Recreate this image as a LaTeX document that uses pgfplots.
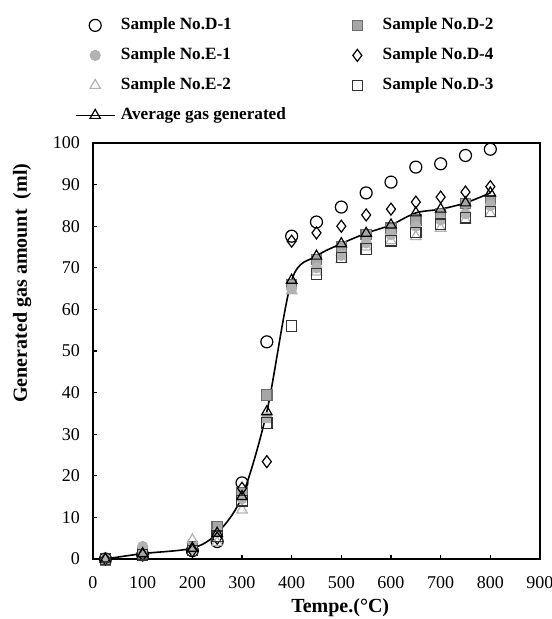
\documentclass[border=0pt]{standalone}
\usepackage{fontspec}
\setmainfont{Liberation Serif}
\usepackage{pgfplots}
\pgfplotsset{compat=1.18}

\begin{document}
\begin{tikzpicture}
\useasboundingbox (-46.5pt,-30pt) rectangle (229pt,279.5pt);
\begin{axis}[
  width=223.5pt, height=208pt,
  scale only axis,
  xmin=0, xmax=900, ymin=0, ymax=100,
  xtick={0,100,...,900},
  ytick={0,10,...,100},
  tick align=inside,
  tick pos=left,
  major tick length=2pt,
  axis line style={line width=1.3pt},
  tick style={line width=0.6pt, black},
  tick label style={font=\fontsize{9}{10}\selectfont},
  xticklabel style={yshift=-5pt},
  yticklabel style={xshift=-3pt},
  /pgf/number format/assume math mode=true,
  xlabel={\textbf{Tempe.(°C)}},
  ylabel={\textbf{Generated gas amount\ \ (ml)}},
  label style={font=\fontsize{9.2}{10}\selectfont},
  every axis x label/.style={at={(axis description cs:0.553,-0.118)}, anchor=center},
  every axis y label/.style={at={(axis description cs:-0.1588,0.663)}, rotate=90, anchor=center},
  clip=false,
  legend columns=2,
  legend cell align=left,
  legend image code/.code={\path (0pt,0pt) (19pt,0pt);
    \draw[mark repeat=2,mark phase=2,#1] plot coordinates {(0pt,0pt)(9.5pt,0pt)(19pt,0pt)};},
  legend style={at={(axis description cs:0,1)}, anchor=north west,
    xshift=-9pt, yshift=63pt, draw=none, fill=none, inner sep=0pt,
    font=\fontsize{8.6}{10}\selectfont\bfseries,
    nodes={inner sep=0pt, text height=6pt, text depth=2pt},
    row sep=7pt,
    /tikz/every odd column/.append style={column sep=3pt},
    /tikz/every even column/.append style={column sep=26pt}},
]
% Sample No.D-1
\addplot[only marks, mark=o, mark size=3pt, black, mark options={line width=0.6pt}]
  coordinates {(25,0)(100,1)(200,2)(250,4.2)(300,18.3)(350,52.2)(400,77.6)
  (450,81)(500,84.6)(550,88)(600,90.6)(650,94.2)(700,95)(750,97)(800,98.5)};
\addlegendentry{Sample No.D-1}
% Sample No.D-2
\addplot[only marks, mark=square*, mark size=2.6pt, draw=gray!85!black, fill=gray!70, mark options={line width=0.6pt}]
  coordinates {(25,-0.4)(100,1.5)(200,3)(250,7.8)(300,16)(350,39.4)(400,66)
  (450,72)(500,75)(550,78)(600,79.5)(650,81.5)(700,83)(750,85.5)(800,86)};
\addlegendentry{Sample No.D-2}
% Sample No.E-1
\addplot[only marks, mark=*, mark size=2.6pt, draw=gray!60, fill=gray!60]
  coordinates {(25,0)(100,3)(200,2.5)(250,6.5)(300,14.5)(350,34)(400,65)
  (450,70)(500,73)(550,76)(600,78)(650,80)(700,81.5)(750,83)(800,85)};
\addlegendentry{Sample No.E-1}
% Sample No.D-4
\addplot[only marks, mark=diamond, mark size=3pt, black, mark options={line width=0.6pt}]
  coordinates {(25,0)(100,1)(200,2)(250,5)(300,17)(350,23.4)(400,76.4)
  (450,78.4)(500,80)(550,82.7)(600,84.1)(650,85.8)(700,87)(750,88.2)(800,89.5)};
\addlegendentry{Sample No.D-4}
% Sample No.E-2
\addplot[only marks, mark=triangle, mark size=3pt, gray!60, mark options={line width=0.6pt}]
  coordinates {(25,0)(100,1.5)(200,4.6)(250,4)(300,11.8)(350,33.5)(400,64.5)
  (450,69)(500,72)(550,75)(600,76.5)(650,77.5)(700,79.5)(750,81.5)(800,83)};
\addlegendentry{Sample No.E-2}
% Sample No.D-3
\addplot[only marks, mark=square, mark size=2.6pt, black!80, mark options={line width=0.6pt}]
  coordinates {(25,0)(100,1)(200,2)(250,5.5)(300,14)(350,32.7)(400,56)
  (450,68.5)(500,72.5)(550,74.5)(600,76.5)(650,78.5)(700,80.5)(750,82)(800,83.5)};
\addlegendentry{Sample No.D-3}
% Average
\addplot[smooth, black, line width=0.8pt, mark=triangle, mark size=3pt, mark options={fill=white, line width=0.6pt}]
  coordinates {(25,0)(100,1.3)(200,2.6)(250,6.2)(300,15)(350,35.4)(400,67)
  (450,72.8)(500,75.8)(550,78.3)(600,80.3)(650,83.2)(700,84.1)(750,85.6)(800,88)};
\addlegendentry{Average gas generated}
\end{axis}
\end{tikzpicture}
\end{document}
